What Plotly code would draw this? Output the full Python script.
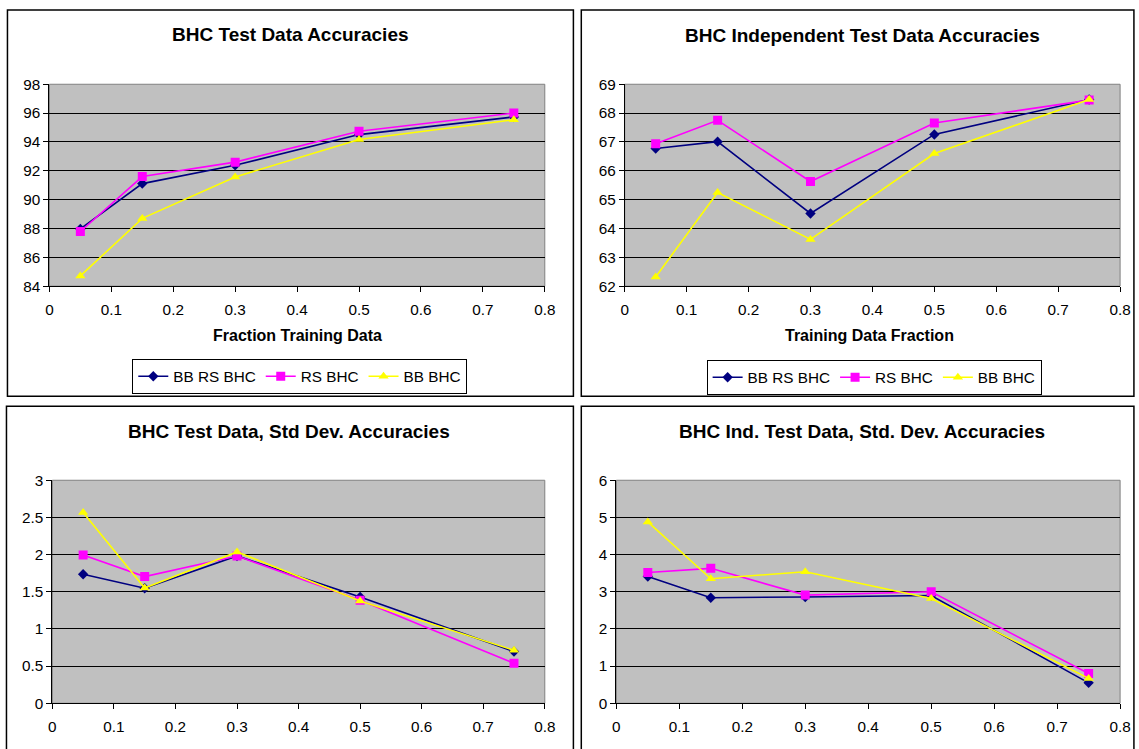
import plotly.graph_objects as go

# ---------------- data ----------------
x_frac = [0.05, 0.15, 0.3, 0.5, 0.75]
series_names = ["BB RS BHC", "RS BHC", "BB BHC"]

test_acc_bbrs = [87.97, 91.11, 92.38, 94.51, 95.73]
test_acc_rs = [87.79, 91.60, 92.60, 94.74, 96.00]
test_acc_bb = [84.71, 88.70, 91.57, 94.17, 95.54]

ind_acc_bbrs = [66.77, 67.01, 64.52, 67.26, 68.47]
ind_acc_rs = [66.94, 67.75, 65.63, 67.66, 68.45]
ind_acc_bb = [62.32, 65.25, 63.62, 66.60, 68.47]

test_sd_bbrs = [1.735, 1.547, 1.982, 1.430, 0.695]
test_sd_rs = [1.995, 1.704, 1.980, 1.386, 0.538]
test_sd_bb = [2.565, 1.550, 2.036, 1.377, 0.713]

ind_sd_bbrs = [3.41, 2.84, 2.86, 2.90, 0.55]
ind_sd_rs = [3.52, 3.63, 2.91, 3.00, 0.80]
ind_sd_bb = [4.88, 3.35, 3.54, 2.82, 0.67]

panel_titles = ["BHC Test Data Accuracies", "BHC Independent Test Data Accuracies",
                "BHC Test Data, Std Dev. Accuracies", "BHC Ind. Test Data, Std. Dev. Accuracies"]
x_titles = ["Fraction Training Data", "Training Data Fraction", None, None]
x_tickvals = [0, 0.1, 0.2, 0.3, 0.4, 0.5, 0.6, 0.7, 0.8]
y_ranges = [(84, 98, 2), (62, 69, 1), (0, 3, 0.5), (0, 6, 1)]

panel_series = [
    [test_acc_bbrs, test_acc_rs, test_acc_bb],
    [ind_acc_bbrs, ind_acc_rs, ind_acc_bb],
    [test_sd_bbrs, test_sd_rs, test_sd_bb],
    [ind_sd_bbrs, ind_sd_rs, ind_sd_bb],
]

# ---------------- styles / layout ----------------
W, H = 1139, 749
FONT = "Liberation Sans, Arial, sans-serif"
colors = ["#000080", "#FF00FF", "#FFFF00"]
symbols = ["diamond", "square", "triangle-up"]
msizes = [8, 9, 9]


def px(x):
    return x / W


def py(y):
    return 1 - y / H


# plot areas in pixels (left, right, top, bottom)
plot_boxes = [(46, 548, 77, 283.6), (629, 1131, 77, 283.6),
              (49, 548, 482.2, 710.4), (620.5, 1131, 482.2, 710.4)]
# panel frames in pixels
frames = [(3.5, 577, 1, 396.2), (585, 1145, 1, 396.2),
          (2.5, 577, 406.4, 760), (585, 1145, 406.4, 760)]
title_pos = [(290.7, 25.7), (870, 26.7), (288.7, 432), (869, 432)]
xtitle_pos = [(297.8, 333.8), (877.2, 333.8), None, None]
legend_pos = [(130, 358), (712, 359), None, None]

fig = go.Figure()

for p in range(4):
    xa = "x" if p == 0 else f"x{p+1}"
    ya = "y" if p == 0 else f"y{p+1}"
    leg = "legend" if p == 0 else "legend2"
    for s in range(3):
        fig.add_trace(go.Scatter(
            x=x_frac, y=panel_series[p][s], name=series_names[s],
            mode="lines+markers", xaxis=xa, yaxis=ya,
            line=dict(color=colors[s], width=1.6),
            marker=dict(symbol=symbols[s], size=msizes[s], color=colors[s],
                        line=dict(width=0)),
            showlegend=(p < 2), legend=leg,
        ))

layout = dict(
    width=W, height=H,
    margin=dict(l=0, r=0, t=0, b=0),
    paper_bgcolor="white",
    plot_bgcolor="#C0C0C0",
    font=dict(family=FONT, size=15, color="black"),
    shapes=[], annotations=[],
)

for p in range(4):
    l, r, t, b = plot_boxes[p]
    sfx = "" if p == 0 else str(p + 1)
    y0, y1, dy = y_ranges[p]
    layout["xaxis" + sfx] = dict(
        domain=[px(l), min(1.0, px(r))], range=[0, 0.8], anchor="y" + sfx,
        tickvals=x_tickvals, ticks="outside", ticklen=5, tickcolor="black",
        showline=True, linecolor="black", linewidth=1, showgrid=False,
        zeroline=False, tickfont=dict(size=15.3), ticklabelstandoff=4,
    )
    layout["yaxis" + sfx] = dict(
        domain=[py(b), py(t)], range=[y0, y1], dtick=dy, tick0=y0,
        anchor="x" + sfx, ticks="outside", ticklen=5, tickcolor="black",
        showline=True, linecolor="black", linewidth=1,
        showgrid=True, gridcolor="black", gridwidth=1, zeroline=False,
        tickfont=dict(size=15.3),
    )
    layout["shapes"].append(dict(
        type="rect", xref="paper", yref="paper",
        x0=px(l), x1=min(1.0, px(r)), y0=py(b), y1=py(t),
        line=dict(color="#808080", width=1), layer="below"))
    fl, fr, ft, fb = frames[p]
    layout["shapes"].append(dict(
        type="rect", xref="paper", yref="paper",
        x0=px(fl), x1=px(fr), y0=py(fb), y1=py(ft),
        line=dict(color="black", width=1.5), layer="below"))
    tx, ty = title_pos[p]
    layout["annotations"].append(dict(
        text="<b>" + panel_titles[p] + "</b>", x=px(tx), y=py(ty),
        xref="paper", yref="paper", showarrow=False,
        xanchor="center", yanchor="middle", font=dict(size=19)))
    if x_titles[p]:
        ax_, ay_ = xtitle_pos[p]
        layout["annotations"].append(dict(
            text="<b>" + x_titles[p] + "</b>", x=px(ax_), y=py(ay_),
            xref="paper", yref="paper", showarrow=False,
            xanchor="center", yanchor="middle", font=dict(size=16)))

for p, key in [(0, "legend"), (1, "legend2")]:
    lx, ly = legend_pos[p]
    layout[key] = dict(
        x=px(lx), y=py(ly), xanchor="left", yanchor="top",
        orientation="h", bgcolor="white", bordercolor="black", borderwidth=1,
        font=dict(size=15.3), itemclick=False, itemdoubleclick=False,
    )

fig.update_layout(**layout)
fig.write_html(
    "out.html",
    config={"displayModeBar": False},
    post_script="document.body.style.margin='0';document.body.style.padding='0';"
                "document.body.style.overflow='hidden';"
                "document.documentElement.style.overflow='hidden';",
)
